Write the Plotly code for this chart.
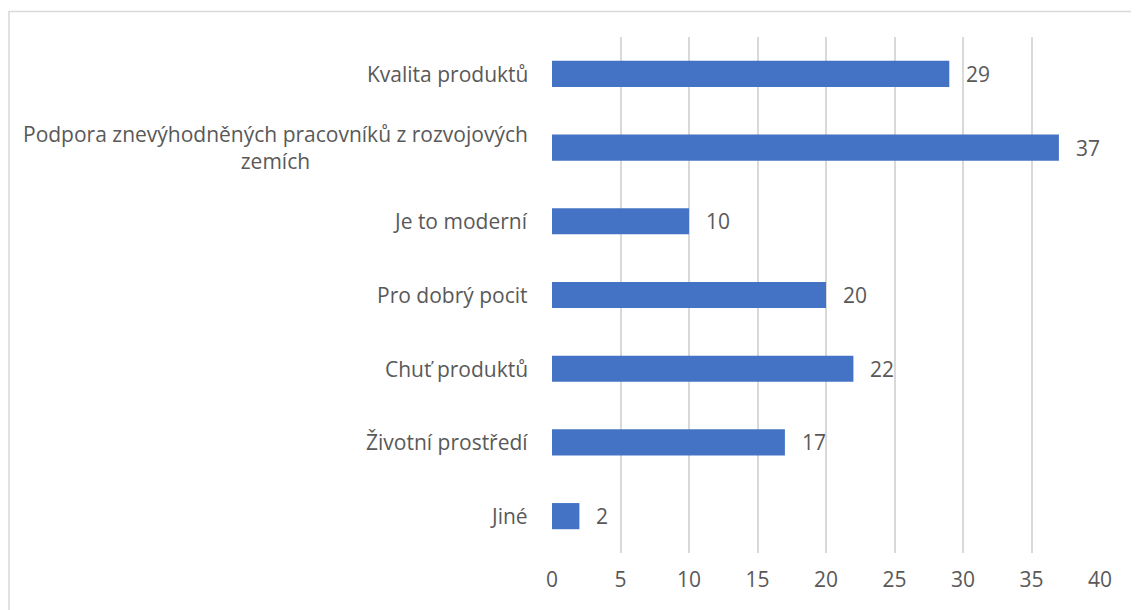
import plotly.graph_objects as go

categories = [
    "Kvalita produktů",
    "Podpora znevýhodněných pracovníků z rozvojových<br>zemích",
    "Je to moderní",
    "Pro dobrý pocit",
    "Chuť produktů",
    "Životní prostředí",
    "Jiné",
]
values = [29, 37, 10, 20, 22, 17, 2]
x_ticks = [0, 5, 10, 15, 20, 25, 30, 35, 40]

FONT = "Open Sans"
TXT = "#595959"
BAR = "#4472C4"

fig = go.Figure(go.Bar(
    x=values, y=categories, orientation="h",
    marker=dict(color=BAR, line=dict(width=0)),
    width=0.355, hoverinfo="x+y",
))

# category labels as annotations so the wrapped label centres its lines like the source
for cat in categories:
    fig.add_annotation(x=0, y=cat, xref="paper", yref="y", text=cat, showarrow=False,
                       xanchor="right", align="center", xshift=-22,
                       font=dict(family=FONT, size=21, color=TXT))
# value labels just past the bar ends
for cat, v in zip(categories, values):
    fig.add_annotation(x=v, y=cat, text=str(v), showarrow=False, xanchor="left", xshift=15,
                       font=dict(family=FONT, size=21, color=TXT))

# thin outer frame of the chart area
fig.add_shape(type="rect", xref="paper", yref="paper",
              x0=-0.9909, x1=1.09, y0=1.0494, y1=-0.13,
              line=dict(color="#d9d9d9", width=1.5), layer="below")

fig.update_yaxes(autorange="reversed", showticklabels=False, showgrid=False,
                 zeroline=False, showline=False)
fig.update_xaxes(range=[0, 40], tickvals=x_ticks, showgrid=True, gridcolor="#d9d9d9",
                 gridwidth=1.5, zeroline=False, showline=False, ticks="", ticklen=0,
                 ticklabelstandoff=12,
                 tickfont=dict(family=FONT, size=21, color=TXT))
fig.update_layout(
    width=1131, height=602, plot_bgcolor="white", paper_bgcolor="white",
    margin=dict(l=544, r=39, t=29, b=57), showlegend=False,
    font=dict(family=FONT, color=TXT),
)
fig.write_html("out.html")
